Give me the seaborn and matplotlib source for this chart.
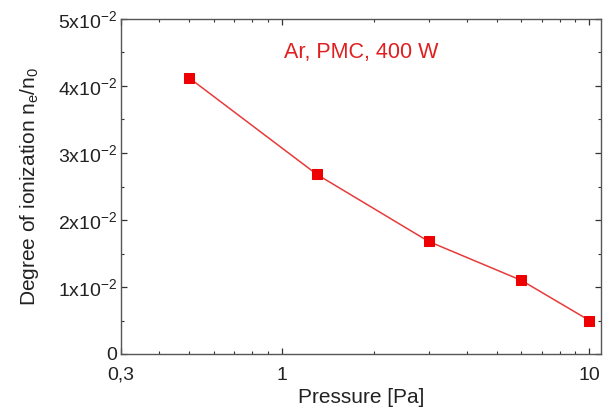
import matplotlib
matplotlib.use("Agg")
import matplotlib.pyplot as plt
import matplotlib.ticker as mticker
import seaborn as sns
import pandas as pd

# Measured degree of ionization vs. pressure (Ar, PMC, 400 W)
pressure_pa = [0.5, 1.3, 3.0, 6.0, 10.0]
ionization = [0.0412, 0.0268, 0.0168, 0.0110, 0.0050]

y_ticks = [0.0, 0.01, 0.02, 0.03, 0.04, 0.05]
y_tick_labels = ["0", r"1x10$^{-2}$", r"2x10$^{-2}$", r"3x10$^{-2}$", r"4x10$^{-2}$", r"5x10$^{-2}$"]
x_ticks = [0.3, 1, 10]
x_tick_labels = ["0,3", "1", "10"]

sns.set_style("ticks")
plt.rcParams["font.family"] = ["Liberation Sans", "DejaVu Sans"]
plt.rcParams["mathtext.fontset"] = "custom"
plt.rcParams["mathtext.rm"] = "Liberation Sans"
plt.rcParams["mathtext.it"] = "Liberation Sans"

df = pd.DataFrame({"p": pressure_pa, "ion": ionization})

fig = plt.figure(figsize=(6.08, 4.07), dpi=100)
ax = fig.add_axes([121 / 608, 1 - 354 / 407, (601 - 121) / 608, (354 - 19) / 407])

sns.lineplot(data=df, x="p", y="ion", ax=ax, color="#e83a3a", linewidth=1.1,
             marker="s", markersize=7, markerfacecolor="#ee0000",
             markeredgecolor="#ee0000")

ax.set_xscale("log")
ax.set_xlim(0.3, 10.9)
ax.set_ylim(0, 0.05)

ax.set_xticks(x_ticks)
ax.set_xticklabels(x_tick_labels)
ax.xaxis.set_minor_locator(mticker.LogLocator(base=10, subs=range(2, 10)))
ax.xaxis.set_minor_formatter(mticker.NullFormatter())
ax.set_yticks(y_ticks)
ax.set_yticklabels(y_tick_labels)
ax.yaxis.set_minor_locator(mticker.MultipleLocator(0.005))

ax.tick_params(which="both", direction="in", top=True, right=True,
               colors="#333333", labelcolor="#222222", labelsize=14, pad=3)
ax.tick_params(axis="x", which="major", pad=9)
ax.tick_params(which="major", length=4, width=0.9)
ax.tick_params(which="minor", length=2.5, width=0.8)
for s in ax.spines.values():
    s.set_color("#555555")
    s.set_linewidth(1.0)

ax.set_xlabel("Pressure [Pa]", fontsize=15, color="#222222", labelpad=3)
ax.set_ylabel(r"Degree of ionization n$_e$/n$_0$", fontsize=15, color="#222222", labelpad=12)

ax.text(0.5, 0.9, "Ar, PMC, 400 W", transform=ax.transAxes, ha="center", va="center",
        color="#e02020", fontsize=15.5)

fig.savefig("out.png", dpi=100)
